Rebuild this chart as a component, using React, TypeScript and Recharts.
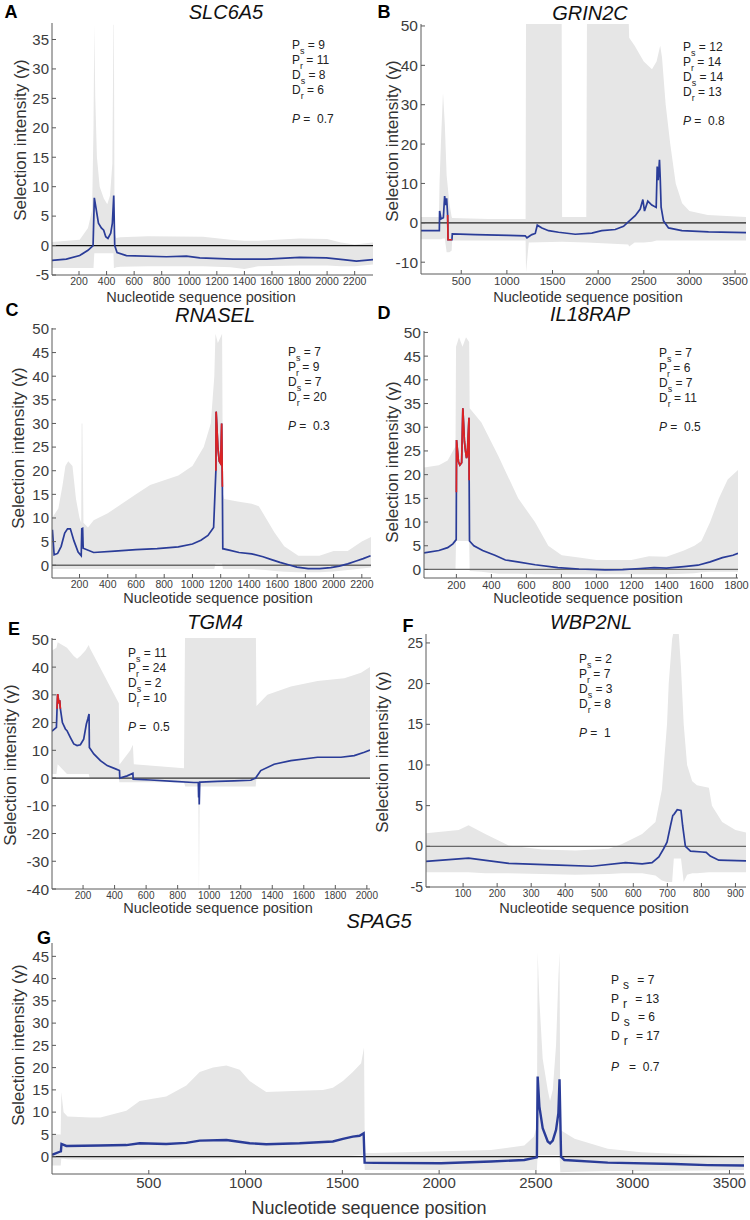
import React from "react";
import { ComposedChart, XAxis, YAxis, Area, Line, ReferenceLine } from "recharts";

const FONT = '"Liberation Sans", Arial, Helvetica, sans-serif';
const BAND = "#e6e6e6";
const BLUE = "#2a3c98";
const RED = "#dd2222";
const AXIS = "#5a5a5a";

// ---- A  SLC6A5 ----
const aLinePos = [4, 108, 205, 265, 302, 311, 323, 341, 362, 379, 394, 410, 430, 442, 452, 459, 476, 544, 834, 979, 1076, 1318, 1560, 1801, 1995, 2116, 2213, 2333];
const aLineVal = [-2.5, -2.3, -1.7, -0.8, 0, 8.1, 6.4, 3.8, 3.0, 2.6, 1.5, 1.2, 2.1, 3.8, 8.5, 0, -1.2, -1.7, -1.9, -1.8, -2.1, -2.3, -2.3, -2.0, -2.1, -2.4, -2.65, -2.4];
const aBandPos = [4, 205, 265, 295, 305, 311, 318, 330, 350, 380, 405, 425, 442, 450, 453, 458, 470, 500, 700, 1100, 1300, 1400, 1500, 1800, 2000, 2100, 2200, 2333];
const aBandHi = [0.6, 1.0, 3, 6, 20, 37.5, 25, 15, 10, 8, 7, 8.5, 14, 37.5, 37.5, 2, 1.3, 1.4, 1.6, 1.5, 1.0, 0.8, 0.8, 1.2, 1.1, 0.5, 0.2, 0.5];
const aBandLo = [-3.8, -3.8, -3.8, -3.8, -3.8, -1.3, -1.3, -1.3, -1.3, -1.3, -1.3, -1.3, -1.3, -1.3, -3.8, -3.8, -3.7, -3.6, -3.5, -3.5, -3.7, -4.0, -3.5, -3.4, -3.4, -3.5, -3.5, -3.2];
const aStats = [9, 11, 8, 6];

// ---- B  GRIN2C ----
const bLinePos = [59, 260, 263, 278, 304, 318, 329, 340, 351, 355, 398, 402, 654, 1019, 1201, 1220, 1274, 1311, 1333, 1384, 1457, 1566, 1749, 1931, 2040, 2187, 2278, 2333, 2406, 2461, 2490, 2508, 2544, 2588, 2636, 2647, 2658, 2672, 2680, 2690, 2716, 2771, 2917, 3209, 3620];
const bLineVal = [-2.0, -2.0, 3.0, 1.0, 1.3, 6.8, 4.5, 6.2, 2.0, -4.3, -4.3, -2.8, -3.0, -3.2, -3.3, -3.8, -3.0, -2.7, -0.6, -1.3, -2.0, -2.4, -2.9, -2.6, -2.0, -1.7, -0.9, 0.3, 1.8, 3.5, 5.9, 3.0, 5.5, 4.5, 3.9, 14.3, 10.8, 16.0, 11.5, 4, 0.5, -1.3, -2.0, -2.3, -2.5];
const bRedPos = [351, 355, 398];
const bRedVal = [2.0, -4.3, -4.3];
const bBandPos = [59, 255, 262, 280, 300, 320, 340, 370, 395, 400, 800, 1205, 1210, 1240, 1600, 1605, 1870, 1878, 2330, 2340, 2400, 2500, 2590, 2640, 2680, 2700, 2740, 2790, 2850, 2920, 3000, 3200, 3620];
const bBandHi = [1.5, 1.5, 10, 22, 33, 25, 12, 5, 1.5, 1.2, 1.0, 1.0, 55, 55, 55, 1.5, 1.5, 55, 55, 47, 45, 41, 39, 41, 45, 42, 30, 20, 10, 5, 3, 2, 1.5];
const bBandLo = [-4.2, -4.2, -4.2, -4.2, -4.0, -4.0, -7.5, -7.5, -7.0, -4.5, -4.5, -4.5, -12.5, -5, -4.8, -4.8, -5, -5, -5.5, -6, -5, -5, -4.8, -4.5, -4.5, -4.5, -4.5, -4.5, -4.5, -4.5, -4.5, -4.5, -4.5];
const bStats = [12, 14, 14, 13];

// ---- C  RNASEL ----
const cLinePos = [8, 20, 45, 70, 95, 115, 135, 160, 190, 212, 216, 222, 226, 300, 450, 600, 750, 900, 1000, 1060, 1110, 1150, 1166, 1168, 1180, 1190, 1200, 1207, 1212, 1215, 1260, 1330, 1420, 1500, 1560, 1620, 1680, 1740, 1820, 1900, 1980, 2040, 2100, 2160, 2210, 2262];
const cLineVal = [7.5, 2.2, 2.5, 4.0, 6.8, 7.7, 7.7, 5.2, 2.8, 2.0, 7.7, 7.8, 3.6, 2.7, 3.0, 3.3, 3.5, 3.9, 4.5, 5.3, 6.3, 8.0, 20, 32.5, 25, 22, 21.5, 30, 16.6, 3.5, 3.2, 2.7, 2.4, 1.8, 1.2, 0.6, 0.1, -0.4, -0.7, -0.7, -0.5, -0.2, 0.3, 0.9, 1.4, 2.0];
const cRedPos = [1166, 1168, 1180, 1190, 1200, 1207, 1212];
const cRedVal = [20, 32.5, 25, 22, 21.5, 30, 16.6];
const cBandPos = [5, 50, 80, 100, 120, 150, 175, 200, 212, 215, 220, 228, 260, 300, 400, 500, 600, 700, 800, 900, 1000, 1080, 1130, 1155, 1163, 1180, 1195, 1210, 1216, 1225, 1320, 1420, 1470, 1520, 1580, 1650, 1750, 1900, 2000, 2100, 2200, 2265];
const cBandHi = [10, 12, 17, 21, 22, 21, 14, 10, 9, 30, 30, 9, 8, 9.5, 11, 13, 15, 17, 18, 19, 21, 25, 30, 40, 49, 47, 48, 49, 15, 14, 13.5, 13, 12.5, 10, 7, 4, 2, 2, 3, 3, 5, 6];
const cBandLo = [-0.8, -0.8, -0.8, -0.8, -0.8, -0.8, -0.8, -0.8, -0.8, -0.8, -0.8, -0.8, -0.8, -0.8, -0.8, -0.8, -0.8, -0.8, -0.8, -0.8, -0.8, -0.8, -0.8, -0.8, 0.3, 0.3, 0.3, 0.3, -0.8, -0.8, -0.8, -0.8, -0.9, -1.0, -1.2, -1.4, -1.5, -1.5, -1.3, -1.0, -0.7, -0.5];
const cStats = [7, 9, 7, 20];

// ---- D  IL18RAP ----
const dLinePos = [15, 100, 150, 180, 199, 200, 201, 212, 220, 230, 237, 246, 252, 258, 262, 272, 273, 275, 300, 350, 420, 480, 550, 650, 780, 900, 1050, 1150, 1250, 1330, 1400, 1500, 1580, 1650, 1720, 1780, 1809];
const dLineVal = [3.5, 4.0, 4.6, 5.4, 6.3, 16.3, 27.3, 22.7, 22, 22.5, 34, 27, 25, 23.5, 24, 32, 18.8, 6.0, 5.0, 4.0, 3.0, 2.0, 1.6, 1.0, 0.4, 0.1, -0.1, -0.05, 0.2, 0.4, 0.3, 0.6, 0.9, 1.6, 2.5, 3.0, 3.4];
const dRedPos = [200, 201, 212, 220, 230, 237, 246, 252, 258, 262, 272, 273];
const dRedVal = [16.3, 27.3, 22.7, 22, 22.5, 34, 27, 25, 23.5, 24, 32, 18.8];
const dBandPos = [15, 100, 150, 195, 198, 215, 235, 255, 273, 276, 343, 439, 553, 649, 725, 802, 900, 1000, 1200, 1300, 1400, 1500, 1560, 1600, 1650, 1700, 1750, 1809];
const dBandHi = [21.5, 22, 23, 26, 47, 49, 47, 49, 48, 34, 31, 24, 15, 10, 5, 3, 2.5, 2, 2, 2.8, 2.7, 4, 5, 6, 10, 15, 19, 21];
const dBandLo = [0, 0, 0, 0, 6, 6, 6, 6, 6, -0.3, -0.5, -0.9, -0.9, -1, -1, -1, -1, -1, -1, -1, -1, -0.9, -0.8, -0.6, -0.5, -0.5, -0.5, -0.5];
const dStats = [7, 6, 7, 11];

// ---- E  TGM4 ----
const eLinePos = [3, 31, 35, 39, 47, 52, 56, 69, 88, 98, 119, 141, 162, 183, 204, 221, 230, 238, 240, 268, 310, 353, 406, 431, 433, 480, 516, 518, 628, 776, 903, 931, 933, 935, 937, 940, 946, 1052, 1158, 1264, 1295, 1297, 1327, 1412, 1518, 1687, 1836, 1920, 1984, 2020];
const eLineVal = [16.9, 18.3, 25, 30.3, 27, 28, 25, 20, 17.7, 17.1, 14.7, 12.3, 11.7, 12, 14, 19.5, 21.3, 23.1, 11, 8.7, 6.3, 4.5, 3.3, 2.7, 0, 0.8, 1.7, -0.4, -0.7, -1.2, -1.6, -1.6, -7, -2, -9.5, -1.5, -1.5, -1.2, -1.0, -0.8, 0, 0.2, 2.7, 5.0, 6.3, 7.5, 7.5, 8.1, 9.3, 10.1];
const eRedPos = [35, 39, 47, 52, 56];
const eRedVal = [25, 30.3, 27, 28, 25];
const eBandPos = [3, 31, 39, 98, 141, 162, 183, 215, 236, 242, 427, 430, 433, 500, 516, 522, 840, 848, 931, 935, 940, 1295, 1300, 1369, 1518, 1687, 1857, 1963, 2020];
const eBandHi = [46, 47, 49, 47, 44, 43, 44, 46, 48, 47, 27, 5, 5, 10, 12, 5, 3.5, 60, 60, 60, 60, 60, 26, 30, 33, 35, 36, 38, 40];
const eBandLo = [1.5, 1.5, 5, 1.5, 1.5, 1.5, 1.5, 1.5, 1.5, 0, 0, -1.5, -1.5, -1.5, -1.5, -1.5, -1.5, -3, -3, -42, -3, -3, 0, 0, 0, 0, 0, 0, 0];
const eStats = [11, 24, 2, 10];

// ---- F  WBP2NL ----
const fLinePos = [-9, 116, 234, 381, 479, 577, 626, 655, 675, 689, 699, 709, 716, 719, 729, 740, 745, 753, 768, 802, 814, 826, 851, 931];
const fLineVal = [-1.85, -1.45, -2.1, -2.3, -2.45, -2.0, -2.15, -2.0, -1.3, -0.3, 0.5, 2.5, 3.8, 3.9, 4.5, 4.4, 2.5, 0, -0.6, -0.7, -0.75, -1.2, -1.7, -1.8];
const fBandPos = [-9, 87, 116, 165, 234, 332, 430, 528, 567, 626, 665, 684, 699, 704, 714, 719, 733, 740, 748, 758, 773, 787, 822, 831, 861, 900, 931];
const fBandHi = [1.6, 2.0, 2.6, 1.5, 0.1, -0.4, -0.5, -0.3, 0.3, 1.5, 3, 7, 15, 20, 25.5, 26.5, 26.5, 22, 15, 10, 8, 7.5, 7.2, 5, 3, 2, 1.7];
const fBandLo = [-3.2, -3.2, -3.2, -3.3, -3.3, -3.4, -3.5, -3.4, -3.3, -3.3, -3.6, -4.2, -4.4, -4.4, -4.4, -1.5, -1.5, -1.5, -4.4, -3.5, -3.3, -3.3, -3.2, -3.2, -3.2, -3.2, -3.2];
const fStats = [2, 7, 3, 8];

// ---- G  SPAG5 ----
const gLinePos = [0, 40, 46, 49, 74, 246, 384, 453, 590, 694, 763, 901, 1021, 1107, 1279, 1451, 1503, 1554, 1589, 1610, 1615, 1666, 2010, 2268, 2440, 2505, 2509, 2518, 2535, 2561, 2573, 2587, 2604, 2616, 2622, 2630, 2647, 2871, 3215, 3387, 3575];
const gLineVal = [0.4, 1.1, 1.2, 2.85, 2.4, 2.5, 2.6, 3.0, 2.85, 3.1, 3.6, 3.75, 3.0, 2.8, 3.0, 3.4, 4.0, 4.5, 4.7, 5.25, -1.35, -1.4, -1.5, -1.1, -0.75, -0.15, 18.0, 11.25, 6.4, 3.4, 3.0, 3.6, 6.0, 9.75, 17.4, 0, -0.75, -1.35, -1.65, -1.9, -2.0];
const gBandPos = [0, 45, 48, 60, 80, 200, 250, 384, 453, 520, 590, 694, 763, 832, 901, 970, 1021, 1107, 1279, 1400, 1451, 1503, 1554, 1597, 1612, 1616, 1666, 2268, 2440, 2490, 2505, 2509, 2518, 2535, 2561, 2573, 2587, 2604, 2616, 2622, 2626, 2700, 2871, 3043, 3387, 3575];
const gBandHi = [5, 5, 14.5, 10, 9, 8.8, 8.8, 10.3, 12.5, 13, 13.5, 16, 19, 20, 20.5, 19.5, 17, 14.5, 14.8, 15, 15.5, 17, 19, 21, 24.5, 0.8, 0.8, 1.5, 2.5, 4.5, 7, 46, 35, 22, 15, 12.5, 15, 25, 40, 46, 6, 4, 1.8, 1.0, 0.3, 0];
const gBandLo = [-2, -2, -0.5, -0.5, -0.6, -0.7, -0.7, -0.7, -0.6, -0.6, -0.6, -0.5, -0.5, -0.4, -0.4, -0.3, -0.3, -0.3, -0.2, -0.1, 0, 0.1, 0.2, 0.3, 0.5, -3, -3, -3, -3, -3, -3, 0.3, 0.3, 0.3, 0.3, 0.3, 0.3, 0.3, 0.3, 0.3, -3.5, -3.4, -3.2, -3.2, -3.1, -3.0];
const gStats = [7, 13, 6, 17];

const range = (a: number, b: number, s: number) => {
  const out: number[] = [];
  for (let v = a; v <= b + 1e-9; v += s) out.push(v);
  return out;
};
const pts = (xs: number[], ys: number[]) => xs.map((x, i) => ({ x, y: ys[i] }));
const band = (xs: number[], lo: number[], hi: number[]) => xs.map((x, i) => ({ x, lo: lo[i], hi: hi[i] }));

type PanelProps = {
  l: number; t: number; w: number; h: number;
  xDomain: [number, number]; yDomain: [number, number];
  xTicks: number[]; yTicks: number[];
  xFont: number; yFont: number;
  bandData: any[]; lineData: any[]; redData?: any[];
  zero: string; lw?: number;
};

function Panel(p: PanelProps) {
  const PL = 48, PT = 12, PR = 14, PB = 28;
  const tickStyle = (fs: number) => ({ fontSize: fs, fill: "#3c3c3c", fontFamily: FONT });
  return (
    <div style={{ position: "absolute", left: p.l - PL, top: p.t - PT }}>
      <ComposedChart width={p.w + PL + PR} height={p.h + PT + PB} margin={{ top: PT, right: PR, bottom: 0, left: 0 }}>
        <XAxis type="number" dataKey="x" domain={p.xDomain} ticks={p.xTicks} allowDataOverflow interval={0}
          height={PB} tickSize={-4} tickMargin={7} stroke={AXIS} tick={tickStyle(p.xFont)} />
        <XAxis xAxisId="t" orientation="top" type="number" domain={p.xDomain} ticks={p.xTicks} allowDataOverflow
          height={0} tickSize={-4} tick={false} stroke={AXIS} />
        <YAxis type="number" domain={p.yDomain} ticks={p.yTicks} allowDataOverflow interval={0}
          width={PL} tickSize={-4} tickMargin={7} stroke={AXIS} tick={tickStyle(p.yFont)} />
        <YAxis yAxisId="r" orientation="right" type="number" domain={p.yDomain} ticks={p.yTicks} allowDataOverflow
          width={0} tickSize={-4} tick={false} stroke={AXIS} />
        <Area data={p.bandData} dataKey={(d: any) => [d.lo, d.hi]} type="linear" stroke="none"
          fill={BAND} fillOpacity={1} isAnimationActive={false} />
        <ReferenceLine y={0} stroke={p.zero} strokeWidth={1.3} />
        <Line data={p.lineData} dataKey="y" type="linear" stroke={BLUE} strokeWidth={p.lw ?? 1.7}
          dot={false} isAnimationActive={false} />
        {p.redData && (
          <Line data={p.redData} dataKey="y" type="linear" stroke={RED} strokeWidth={p.lw ?? 1.7}
            dot={false} isAnimationActive={false} />
        )}
      </ComposedChart>
    </div>
  );
}

function Txt(props: { x: number; y: number; size: number; children: React.ReactNode; italic?: boolean; bold?: boolean; rotate?: boolean; color?: string }) {
  const { x, y, size, italic, bold, rotate, color = "#2a2a2a" } = props;
  return (
    <div style={{
      position: "absolute", left: x, top: y,
      transform: `translate(-50%, -50%)${rotate ? " rotate(-90deg)" : ""}`,
      fontSize: size, fontStyle: italic ? "italic" : "normal", fontWeight: bold ? 700 : 400,
      whiteSpace: "nowrap", color, lineHeight: 1,
    }}>{props.children}</div>
  );
}

const LET = ["P", "P", "D", "D"];
const SUB = ["s", "r", "s", "r"];

function Stats(props: { x: number; y: number; vals: number[]; p: string; gap?: number; pOff?: number; wide?: boolean }) {
  const { x, y, vals, p, gap = 15, pOff = 29, wide = false } = props;
  const row = (top: number, key: string | number, content: React.ReactNode) => (
    <div key={key} style={{ position: "absolute", left: x, top: top - 8, fontSize: 12, lineHeight: "16px", color: "#222", whiteSpace: "nowrap" }}>{content}</div>
  );
  return (
    <>
      {vals.map((v, i) => row(y + i * gap, i, (
        <>
          {LET[i]}
          <span style={{ fontSize: wide ? 12 : 9, position: "relative", top: 5, marginLeft: wide ? 4 : 0, marginRight: wide ? 5 : 0 }}>{SUB[i]}</span>
          {wide ? "\u00a0= " : " = "}{v}
        </>
      )))}
      {row(y + 3 * gap + pOff, "p", (<><i>P</i>{wide ? "\u00a0\u00a0\u00a0=\u00a0\u00a0" : "\u00a0=\u00a0\u00a0"}{p}</>))}
    </>
  );
}

const YLAB = "Selection intensity (\u03b3)";
const XLAB = "Nucleotide sequence position";

export default function App() {
  return (
    <div style={{ position: "absolute", left: 0, top: 0, width: 750, height: 1220, background: "#fff", fontFamily: FONT, overflow: "hidden" }}>
      <Panel l={52} t={23} w={321} h={252} xDomain={[4, 2333]} yDomain={[-5, 37.8]}
        xTicks={range(200, 2200, 200)} yTicks={range(-5, 35, 5)} xFont={10.5} yFont={15}
        bandData={band(aBandPos, aBandLo, aBandHi)} lineData={pts(aLinePos, aLineVal)} zero="#111" />
      <Panel l={421} t={24} w={325} h={250} xDomain={[59, 3620]} yDomain={[-13, 50.5]}
        xTicks={range(500, 3500, 500)} yTicks={range(-10, 50, 10)} xFont={11.5} yFont={15.5}
        bandData={band(bBandPos, bBandLo, bBandHi)} lineData={pts(bLinePos, bLineVal)} redData={pts(bRedPos, bRedVal)} zero="#222" />
      <Panel l={52} t={328} w={319} h={250} xDomain={[5, 2265]} yDomain={[-2.7, 50.2]}
        xTicks={range(200, 2200, 200)} yTicks={range(0, 50, 5)} xFont={10.5} yFont={15}
        bandData={band(cBandPos, cBandLo, cBandHi)} lineData={pts(cLinePos, cLineVal)} redData={pts(cRedPos, cRedVal)} zero="#6a6a6a" />
      <Panel l={424} t={331} w={314} h={247} xDomain={[15, 1809]} yDomain={[-1.8, 50.3]}
        xTicks={range(200, 1800, 200)} yTicks={range(0, 50, 5)} xFont={11} yFont={15.5}
        bandData={band(dBandPos, dBandLo, dBandHi)} lineData={pts(dLinePos, dLineVal)} redData={pts(dRedPos, dRedVal)} zero="#6a6a6a" />
      <Panel l={52} t={638} w={318} h={251} xDomain={[3, 2020]} yDomain={[-40, 50.5]}
        xTicks={range(200, 2000, 200)} yTicks={range(-40, 50, 10)} xFont={10} yFont={15.5}
        bandData={band(eBandPos, eBandLo, eBandHi)} lineData={pts(eLinePos, eLineVal)} redData={pts(eRedPos, eRedVal)} zero="#333" />
      <Panel l={426} t={634} w={320} h={253} xDomain={[-9, 931]} yDomain={[-5, 26.1]}
        xTicks={range(100, 900, 100)} yTicks={range(-5, 25, 5)} xFont={10} yFont={14}
        bandData={band(fBandPos, fBandLo, fBandHi)} lineData={pts(fLinePos, fLineVal)} zero="#6a6a6a" />
      <Panel l={52} t={943} w={692} h={231} xDomain={[0, 3575]} yDomain={[-3.9, 48]}
        xTicks={range(500, 3500, 500)} yTicks={range(0, 45, 5)} xFont={15} yFont={15}
        bandData={band(gBandPos, gBandLo, gBandHi)} lineData={pts(gLinePos, gLineVal)} zero="#222" lw={2.4} />

      {/* panel letters */}
      <Txt x={11} y={12} size={18} bold color="#000">A</Txt>
      <Txt x={384} y={12} size={18} bold color="#000">B</Txt>
      <Txt x={12} y={310} size={18} bold color="#000">C</Txt>
      <Txt x={384} y={313} size={18} bold color="#000">D</Txt>
      <Txt x={14} y={629} size={18} bold color="#000">E</Txt>
      <Txt x={408} y={626} size={18} bold color="#000">F</Txt>
      <Txt x={44} y={938} size={18} bold color="#000">G</Txt>

      {/* gene titles */}
      <Txt x={226} y={12} size={20} italic color="#111">SLC6A5</Txt>
      <Txt x={590} y={13} size={20} italic color="#111">GRIN2C</Txt>
      <Txt x={215} y={315} size={20} italic color="#111">RNASEL</Txt>
      <Txt x={590} y={314} size={20} italic color="#111">IL18RAP</Txt>
      <Txt x={215} y={622} size={20} italic color="#111">TGM4</Txt>
      <Txt x={591} y={622} size={20} italic color="#111">WBP2NL</Txt>
      <Txt x={379} y={921} size={20} italic color="#111">SPAG5</Txt>

      {/* axis titles */}
      <Txt x={201} y={297} size={14.5} color="#333">{XLAB}</Txt>
      <Txt x={588} y={297} size={14.5} color="#333">{XLAB}</Txt>
      <Txt x={218} y={598} size={14.5} color="#333">{XLAB}</Txt>
      <Txt x={588} y={598} size={14.5} color="#333">{XLAB}</Txt>
      <Txt x={218} y={908} size={14.5} color="#333">{XLAB}</Txt>
      <Txt x={594} y={908} size={14.5} color="#333">{XLAB}</Txt>
      <Txt x={369} y={1208} size={18} color="#333">{XLAB}</Txt>

      <Txt x={20} y={140} size={17} rotate color="#333">{YLAB}</Txt>
      <Txt x={392} y={141} size={17} rotate color="#333">{YLAB}</Txt>
      <Txt x={18} y={448} size={17} rotate color="#333">{YLAB}</Txt>
      <Txt x={392} y={462} size={17} rotate color="#333">{YLAB}</Txt>
      <Txt x={10} y={765} size={17} rotate color="#333">{YLAB}</Txt>
      <Txt x={382} y={752} size={17} rotate color="#333">{YLAB}</Txt>
      <Txt x={18} y={1045} size={17} rotate color="#333">{YLAB}</Txt>

      {/* statistics */}
      <Stats x={292} y={45} vals={aStats} p="0.7" />
      <Stats x={683} y={47} vals={bStats} p="0.8" />
      <Stats x={288} y={352} vals={cStats} p="0.3" />
      <Stats x={659} y={353} vals={dStats} p="0.5" />
      <Stats x={128} y={653} vals={eStats} p="0.5" />
      <Stats x={579} y={659} vals={fStats} p="1" />
      <Stats x={611} y={980} vals={gStats} p="0.7" gap={18.7} pOff={31} wide />
    </div>
  );
}
